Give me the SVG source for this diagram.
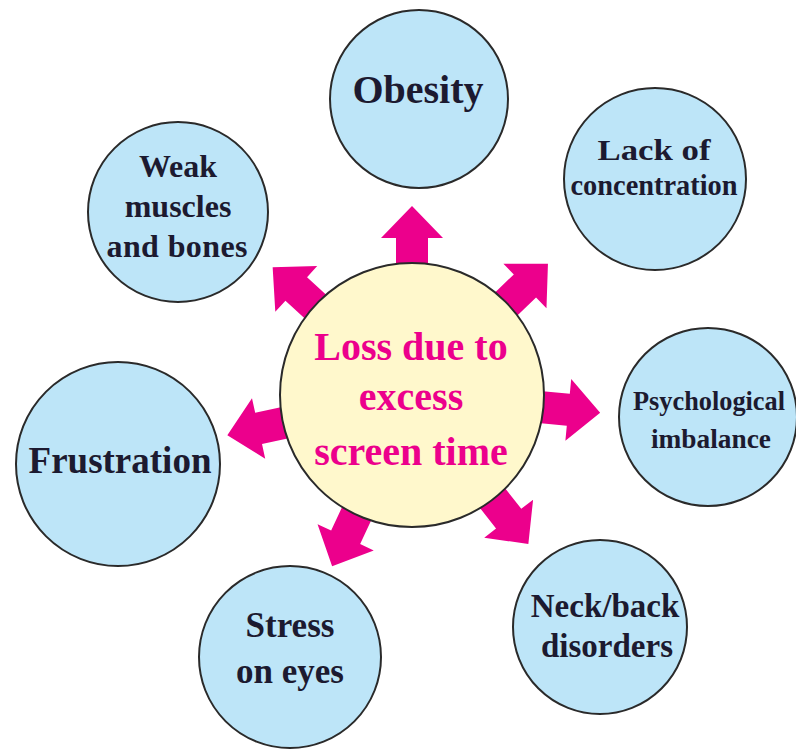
<svg xmlns="http://www.w3.org/2000/svg" width="796" height="749" viewBox="0 0 796 749">
<style>
.node{fill:#BDE5F8;stroke:#2a2a2a;stroke-width:2}
.hub{fill:#FFF8CC;stroke:#2a2a2a;stroke-width:2}
.t{font-family:"Liberation Serif","Times New Roman",serif;font-weight:bold;fill:#1c1a30;text-anchor:middle}
.c{font-family:"Liberation Serif","Times New Roman",serif;font-weight:bold;fill:#EC008C;text-anchor:middle;font-size:40px}
.arrow{fill:#EC008C}
</style>
<defs>
<path id="arr" d="M100,-16 L157,-16 L157,-31 L189,0 L157,31 L157,16 L100,16 Z"/>
</defs>
<rect width="796" height="749" fill="#ffffff"/>
<g id="connectors" class="arrow">
<use href="#arr" transform="translate(412,395) rotate(-90)"/>
<use href="#arr" transform="translate(412,395) rotate(-44)"/>
<use href="#arr" transform="translate(412,395) rotate(-137.5)"/>
<use href="#arr" transform="translate(412,395) rotate(5.4)"/>
<use href="#arr" transform="translate(412,395) rotate(167.7)"/>
<use href="#arr" transform="translate(412,395) rotate(52)"/>
<use href="#arr" transform="translate(412,395) rotate(115)"/>
</g>
<g id="center">
<circle class="hub" cx="412" cy="395" r="132"/>
<text class="c" x="411" y="360">Loss due to</text>
<text class="c" x="411" y="410">excess</text>
<text class="c" x="411" y="465">screen time</text>
</g>
<g id="obesity">
<circle class="node" cx="419" cy="99" r="89"/>
<text class="t" x="418" y="103" font-size="40">Obesity</text>
</g>
<g id="lack">
<circle class="node" cx="655" cy="179" r="91"/>
<text class="t" x="654" y="160" font-size="29" textLength="113" lengthAdjust="spacingAndGlyphs">Lack of</text>
<text class="t" x="654" y="195" font-size="29" textLength="167" lengthAdjust="spacingAndGlyphs">concentration</text>
</g>
<g id="weak">
<circle class="node" cx="178" cy="212" r="90"/>
<text class="t" x="178" y="177" font-size="32">Weak</text>
<text class="t" x="178" y="217" font-size="32">muscles</text>
<text class="t" x="177" y="257" font-size="32" textLength="141" lengthAdjust="spacing">and bones</text>
</g>
<g id="psych">
<circle class="node" cx="708" cy="417" r="89"/>
<text class="t" x="709" y="410" font-size="28" textLength="152" lengthAdjust="spacingAndGlyphs">Psychological</text>
<text class="t" x="711" y="448" font-size="28" textLength="120" lengthAdjust="spacingAndGlyphs">imbalance</text>
</g>
<g id="frustration">
<circle class="node" cx="118" cy="464" r="102"/>
<text class="t" x="120" y="473" font-size="37">Frustration</text>
</g>
<g id="stress">
<circle class="node" cx="290" cy="657" r="91"/>
<text class="t" x="290" y="637" font-size="35">Stress</text>
<text class="t" x="290" y="683" font-size="35">on eyes</text>
</g>
<g id="neck">
<circle class="node" cx="600" cy="627" r="87"/>
<text class="t" x="605" y="617" font-size="33">Neck/back</text>
<text class="t" x="607" y="657" font-size="33">disorders</text>
</g>
</svg>
